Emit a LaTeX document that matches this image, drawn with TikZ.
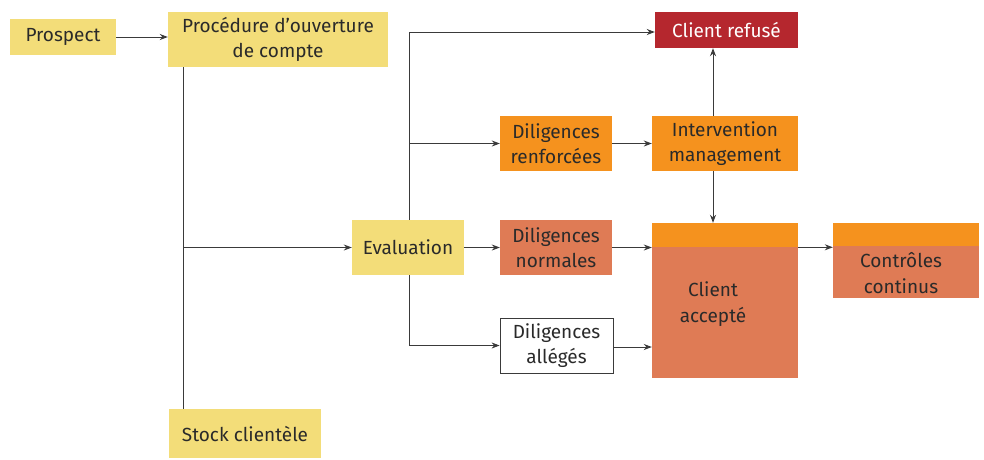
\documentclass[tikz,border=0pt]{standalone}
\usepackage{fontspec}
\setmainfont{Fira Sans}
\usetikzlibrary{arrows.meta}
\definecolor{cyellow}{HTML}{F3DD79}
\definecolor{corange}{HTML}{F5921E}
\definecolor{csalmon}{HTML}{DF7B55}
\definecolor{cred}{HTML}{B5272E}
\definecolor{cline}{HTML}{3A3A3A}
\definecolor{ctext}{HTML}{2A2A2A}
\begin{document}
\begin{tikzpicture}[x=1pt,y=-1pt,
  box/.style={inner sep=0pt, align=center, text=ctext,
    font=\fontsize{19}{25.5}\selectfont},
  yel/.style={box, fill=cyellow},
  org/.style={box, fill=corange},
  sal/.style={box, fill=csalmon},
  conn/.style={draw=cline, line width=0.9pt, -{Stealth[length=8pt,width=6pt]}},
  plain/.style={draw=cline, line width=0.9pt}]
\useasboundingbox (0,0) rectangle (984,459);
% nodes
\node[yel, minimum width=106, minimum height=36] (prospect) at (63,37) {Prospect};
\node[yel, minimum width=220, minimum height=55] (proc) at (278,39.5) {Procédure d’ouverture\\de compte};
\node[yel, minimum width=152, minimum height=49] (stock) at (245,433.5) {Stock clientèle};
\node[yel, minimum width=112, minimum height=55] (eval) at (408,247.5) {Evaluation};
\node[box, fill=cred, text=white, minimum width=143, minimum height=36] (refuse) at (726.5,30) {Client refusé};
\node[org, minimum width=112, minimum height=55] (drenf) at (556,143.5) {Diligences\\renforcées};
\node[org, minimum width=146, minimum height=55] (interv) at (725,143.5) {Intervention\\management};
\node[sal, minimum width=112, minimum height=55] (dnorm) at (556,247.5) {Diligences\\normales};
\node[box, draw=cline, line width=0.8pt, fill=white, minimum width=113, minimum height=55] (dall) at (556.5,345.5) {Diligences\\allégés};
\node[sal, minimum width=146, minimum height=155] (acc) at (725,300.5) {};
\fill[corange] (acc.north west) rectangle ([yshift=-24pt]acc.north east);
\node[box] (acctxt) at (713,304) {Client\\accepté};
\node[sal, minimum width=146, minimum height=75] (ctrl) at (906,260.5) {};
\fill[corange] (ctrl.north west) rectangle ([yshift=-23pt]ctrl.north east);
\node[box] (ctrltxt) at (901,273) {Contrôles\\continus};
% trunks
\coordinate (t1) at (183,0);
\coordinate (t2) at (409,0);
\coordinate (t3) at (713,0);
\draw[conn] (prospect) -- (proc.west |- prospect);
\draw[plain] (proc.south -| t1) -- (stock.north -| t1);
\draw[conn] (eval.west -| t1) -- (eval.west);
\draw[conn] (eval.north -| t2) |- ([yshift=-2pt]refuse.west);
\draw[conn] (t2 |- drenf.west) -- (drenf.west);
\draw[conn] (eval.south -| t2) |- (dall.west);
\draw[conn] (eval.east) -- (dnorm.west);
\draw[conn] (drenf.east) -- (interv.west);
\draw[conn] (interv.north -| t3) -- (refuse.south -| t3);
\draw[conn] (interv.south -| t3) -- (acc.north -| t3);
\draw[conn] (dnorm.east) -- (dnorm.east -| acc.west);
\draw[conn] ([yshift=-1.5pt]dall.east) -- ([yshift=-1.5pt]dall.east -| acc.west);
\draw[conn] ([yshift=-24.5pt]acc.north east) -- ([yshift=-24.5pt]acc.north east -| ctrl.west);
\end{tikzpicture}
\end{document}
